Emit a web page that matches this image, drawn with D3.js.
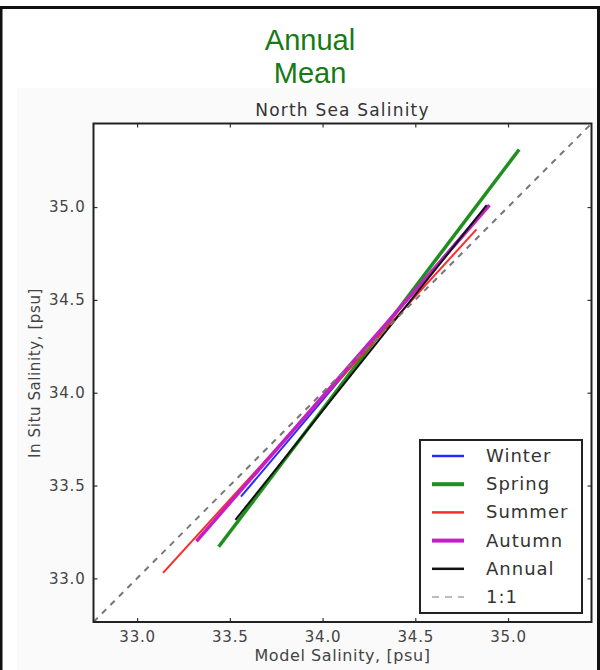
<!DOCTYPE html>
<html>
<head>
<meta charset="utf-8">
<script src="https://cdn.jsdelivr.net/npm/d3@7"></script>
<style>
  body { margin: 0; background: #fff; }
  svg { display: block; }
  .tick text { font-family: "DejaVu Sans", sans-serif; font-size: 15px; fill: #444; letter-spacing: 0.8px; }
</style>
</head>
<body>
<svg id="chart" width="600" height="670"></svg>
<script>
// data
var seasons = ["Winter", "Spring", "Summer", "Autumn", "Annual"];
var modelStart = [33.56, 33.44, 33.14, 33.32, 33.53];
var modelEnd   = [34.88, 35.06, 34.83, 34.90, 34.885];
var situStart  = [33.44, 33.17, 33.03, 33.20, 33.315];
var situEnd    = [35.00, 35.31, 34.88, 35.01, 35.01];
var tickValues = [33.0, 33.5, 34.0, 34.5, 35.0];
var axisRange  = [32.765, 35.45];

var colors = ["#2b2bff", "#1f8f1f", "#ff2a2a", "#c41fc4", "#111"];
var widths = [2, 3.5, 2, 3.5, 2];

var svg = d3.select("#chart");

// outer frame + figure background
svg.append("rect").attr("x", 17).attr("y", 88).attr("width", 583).attr("height", 582)
    .attr("fill", "#fafafa");
svg.append("rect").attr("x", 1).attr("y", 7.5).attr("width", 597.5).attr("height", 680)
    .attr("fill", "none").attr("stroke", "#111").attr("stroke-width", 3);

// green header
var head = svg.append("text")
    .attr("x", 310).attr("text-anchor", "middle")
    .style("font-family", "'Liberation Sans', Arial, sans-serif")
    .style("font-size", "29px").style("fill", "#177a17");
head.append("tspan").attr("x", 310).attr("y", 50).text("Annual");
head.append("tspan").attr("x", 310).attr("y", 83).text("Mean");

var x = d3.scaleLinear().domain(axisRange).range([93.5, 591.5]);
var y = d3.scaleLinear().domain(axisRange).range([622, 123.5]);

svg.append("rect")
    .attr("x", x.range()[0]).attr("y", y.range()[1])
    .attr("width", x.range()[1] - x.range()[0])
    .attr("height", y.range()[0] - y.range()[1])
    .attr("fill", "#fff");

// season lines
var g = svg.append("g");
for (i = 0; i < seasons.length; i++) {
    g.append("line")
        .attr("x1", x(modelStart[i])).attr("y1", y(situStart[i]))
        .attr("x2", x(modelEnd[i])).attr("y2", y(situEnd[i]))
        .style("stroke", colors[i])
        .style("stroke-width", widths[i]);
}

// 1:1 line
svg.append("line")
    .attr("x1", x(axisRange[0])).attr("y1", y(axisRange[0]))
    .attr("x2", x(axisRange[1])).attr("y2", y(axisRange[1]))
    .style("stroke", "#777").style("stroke-width", 2)
    .style("stroke-dasharray", "6,6");

// axes, ticks pointing inward on all sides
var fmt = d3.format(".1f");
svg.append("g").attr("transform", "translate(0," + y.range()[0] + ")")
    .call(d3.axisBottom(x).tickValues(tickValues).tickFormat(fmt).tickSizeInner(-4).tickSizeOuter(0).tickPadding(9));
svg.append("g").attr("transform", "translate(0," + y.range()[1] + ")")
    .call(d3.axisTop(x).tickValues(tickValues).tickFormat("").tickSizeInner(-4).tickSizeOuter(0));
svg.append("g").attr("transform", "translate(" + x.range()[0] + ",0)")
    .call(d3.axisLeft(y).tickValues(tickValues).tickFormat(fmt).tickSizeInner(-4).tickSizeOuter(0).tickPadding(8));
svg.append("g").attr("transform", "translate(" + x.range()[1] + ",0)")
    .call(d3.axisRight(y).tickValues(tickValues).tickFormat("").tickSizeInner(-4).tickSizeOuter(0));
svg.selectAll(".domain").remove();
svg.selectAll(".tick line").style("stroke", "#333").style("stroke-width", 1.2);

svg.append("rect")
    .attr("x", x.range()[0]).attr("y", y.range()[1])
    .attr("width", x.range()[1] - x.range()[0])
    .attr("height", y.range()[0] - y.range()[1])
    .attr("fill", "none").attr("stroke", "#222").attr("stroke-width", 2);

// titles
var font = "'DejaVu Sans', sans-serif";
svg.append("text").attr("x", 342.5).attr("y", 116).attr("text-anchor", "middle")
    .style("font-family", font).style("font-size", "17px").style("fill", "#333")
    .style("letter-spacing", "1.2px")
    .text("North Sea Salinity");
svg.append("text").attr("x", 342.5).attr("y", 661).attr("text-anchor", "middle")
    .style("font-family", font).style("font-size", "16px").style("fill", "#444")
    .style("letter-spacing", "0.6px")
    .text("Model Salinity, [psu]");
svg.append("text").attr("transform", "translate(40,373) rotate(-90)").attr("text-anchor", "middle")
    .style("font-family", font).style("font-size", "15px").style("fill", "#444")
    .style("letter-spacing", "0.6px")
    .text("In Situ Salinity, [psu]");

// legend
var legend = svg.append("g");
legend.append("rect").attr("x", 420).attr("y", 440).attr("width", 162).attr("height", 173)
    .attr("fill", "#fff").attr("stroke", "#222").attr("stroke-width", 2);
var legNames = seasons.concat(["1:1"]);
for (i = 0; i < legNames.length; i++) {
    var ly = 456 + i * 28.2;
    var ln = legend.append("line").attr("x1", 432).attr("x2", 464).attr("y1", ly).attr("y2", ly);
    if (i < seasons.length) {
        ln.style("stroke", colors[i]).style("stroke-width", widths[i] + 0.5);
    } else {
        ln.style("stroke", "#bbb").style("stroke-width", 2).style("stroke-dasharray", "7,6");
    }
    legend.append("text").attr("x", 486).attr("y", ly + 6)
        .style("font-family", font).style("font-size", "18px").style("fill", "#333")
        .style("letter-spacing", "1px")
        .text(legNames[i]);
}
</script>
</body>
</html>
